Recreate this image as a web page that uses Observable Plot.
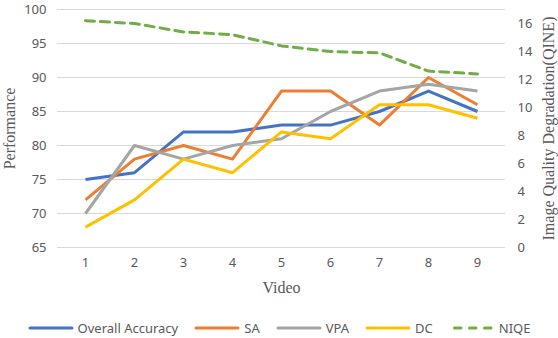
<!DOCTYPE html>
<html>
<head>
<meta charset="utf-8">
<script src="https://cdn.jsdelivr.net/npm/d3@7"></script>
<script src="https://cdn.jsdelivr.net/npm/@observablehq/plot@0.6"></script>
<style>
  html, body { margin: 0; padding: 0; background: #fff; }
  #legend { display: flex; justify-content: center; align-items: center; padding-top: 8px; height: 20px;
    font-family: "Noto Sans", "Liberation Sans", sans-serif; font-size: 13px; color: #595959; width: 558px; }
  .item { display: flex; align-items: center; margin: 0 8px; }
  .item svg { margin-right: 4px; }
</style>
</head>
<body>
<div id="chart"></div>
<div id="legend"></div>
<script>
const videos = [1, 2, 3, 4, 5, 6, 7, 8, 9];
const overallAccuracy = [75, 76, 82, 82, 83, 83, 85, 88, 85];
const sa = [72, 78, 80, 78, 88, 88, 83, 90, 86];
const vpa = [70, 80, 78, 80, 81, 85, 88, 89, 88];
const dc = [68, 72, 78, 76, 82, 81, 86, 86, 84];
const niqe = [16.2, 16.0, 15.4, 15.2, 14.4, 14.0, 13.9, 12.6, 12.4];
const leftTicks = [65, 70, 75, 80, 85, 90, 95, 100];
const rightTicks = [0, 2, 4, 6, 8, 10, 12, 14, 16];
const leftMin = 65, leftMax = 100, rightMin = 0, rightMax = 17;

const toLeft = v => leftMin + (v - rightMin) * (leftMax - leftMin) / (rightMax - rightMin);
const fromLeft = d => Math.round(rightMin + (d - leftMin) * (rightMax - rightMin) / (leftMax - leftMin));

const seriesDefs = [
  {name: "Overall Accuracy", values: overallAccuracy, color: "#4472C4", dash: null},
  {name: "SA", values: sa, color: "#ED7D31", dash: null},
  {name: "VPA", values: vpa, color: "#A5A5A5", dash: null},
  {name: "DC", values: dc, color: "#FFC000", dash: null},
  {name: "NIQE", values: niqe.map(toLeft), color: "#70AD47", dash: "9,6"}
];

const lineMarks = seriesDefs.map(s => Plot.line(
  videos.map((v, i) => ({video: v, value: s.values[i]})),
  {x: "video", y: "value", stroke: s.color, strokeWidth: 3,
   strokeDasharray: s.dash, strokeLinecap: s.dash ? "round" : "butt", strokeLinejoin: "round"}
));

const serif = "'Liberation Serif', serif";

const chart = Plot.plot({
  width: 558,
  height: 310,
  marginLeft: 57,
  marginRight: 53,
  marginTop: 9,
  marginBottom: 63,
  style: {fontFamily: "'Noto Sans', 'Liberation Sans', sans-serif", fontSize: "13px", color: "#595959", background: "#fff"},
  x: {type: "point", domain: videos, padding: 0.5},
  y: {domain: [leftMin, leftMax]},
  marks: [
    Plot.gridY(leftTicks, {stroke: "#d9d9d9", strokeOpacity: 1, strokeWidth: 1}),
    Plot.axisY(leftTicks, {anchor: "left", tickSize: 0, tickPadding: 11, label: null}),
    Plot.axisY(rightTicks.map(toLeft), {anchor: "right", tickSize: 0, tickPadding: 12, label: null, tickFormat: d => fromLeft(d)}),
    Plot.axisX(videos, {anchor: "bottom", tickSize: 0, tickPadding: 10, label: null}),
    ...lineMarks,
    Plot.text(["Video"], {frameAnchor: "bottom", dy: 40, textAnchor: "middle", lineAnchor: "middle", fontFamily: serif, fontSize: 16, fill: "#595959"}),
    Plot.text(["Performance"], {frameAnchor: "left", dx: -48, rotate: -90, textAnchor: "middle", lineAnchor: "middle", fontFamily: serif, fontSize: 16, fill: "#595959"}),
    Plot.text(["Image Quality Degradation(QINE)"], {frameAnchor: "right", dx: 43, rotate: -90, textAnchor: "middle", lineAnchor: "middle", fontFamily: serif, fontSize: 16, fill: "#595959"})
  ]
});
document.getElementById("chart").appendChild(chart);

const legend = document.getElementById("legend");
for (const s of seriesDefs) {
  const item = document.createElement("div");
  item.className = "item";
  const line = s.dash
    ? `<line x1="5.5" y1="4" x2="42" y2="4" stroke="${s.color}" stroke-width="3" stroke-dasharray="6.5,8.5" stroke-linecap="round"/>`
    : `<line x1="2" y1="4" x2="44" y2="4" stroke="${s.color}" stroke-width="3" stroke-linecap="round"/>`;
  item.innerHTML = `<svg width="46" height="8">${line}</svg><span>${s.name}</span>`;
  legend.appendChild(item);
}
</script>
</body>
</html>
